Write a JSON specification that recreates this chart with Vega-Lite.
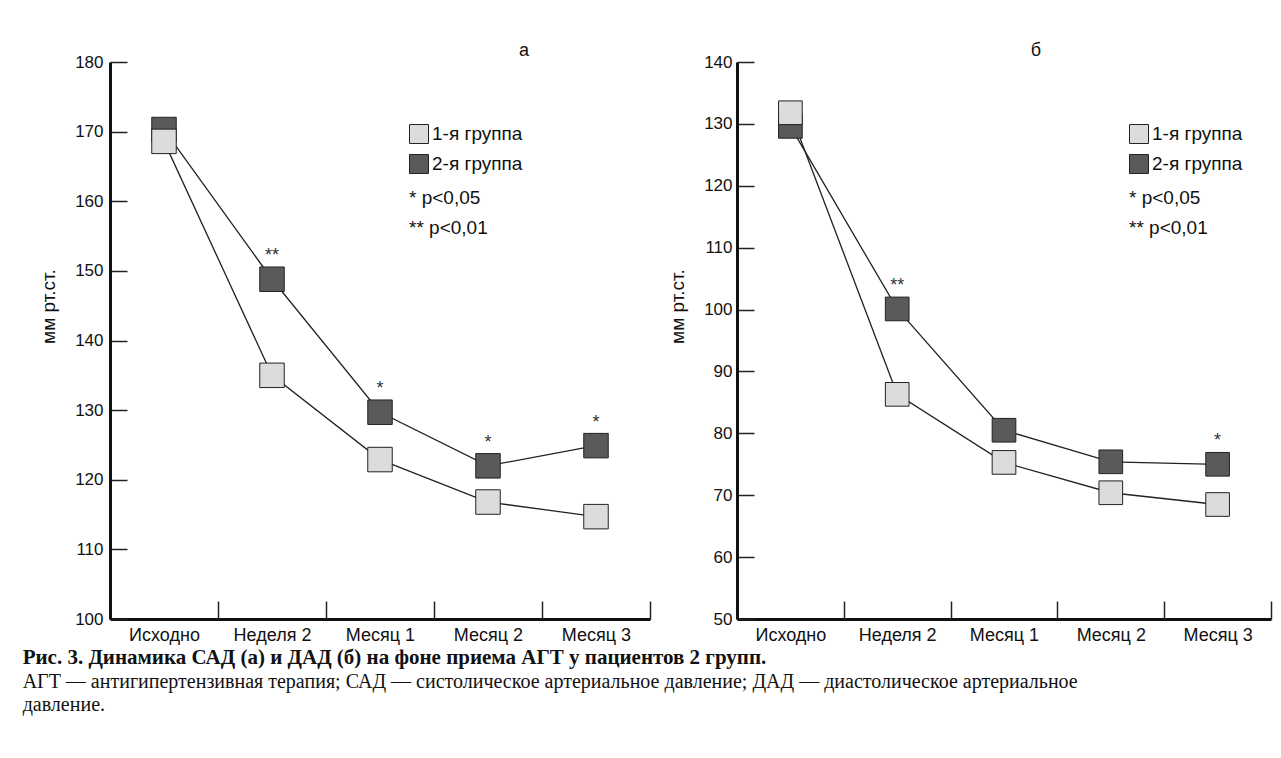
{
  "$schema": "https://vega.github.io/schema/vega-lite/v6.json",
  "background": "white",
  "padding": {"left": 22, "top": 42, "right": 5, "bottom": 5},
  "datasets": {
    "d": [
      {"panel": "a", "t": "Исходно", "g": "2-я группа", "v": 170.3, "sig": ""},
      {"panel": "a", "t": "Неделя 2", "g": "2-я группа", "v": 148.8, "sig": "**"},
      {"panel": "a", "t": "Месяц 1", "g": "2-я группа", "v": 129.7, "sig": "*"},
      {"panel": "a", "t": "Месяц 2", "g": "2-я группа", "v": 122.0, "sig": "*"},
      {"panel": "a", "t": "Месяц 3", "g": "2-я группа", "v": 124.9, "sig": "*"},
      {"panel": "a", "t": "Исходно", "g": "1-я группа", "v": 168.6, "sig": ""},
      {"panel": "a", "t": "Неделя 2", "g": "1-я группа", "v": 135.0, "sig": ""},
      {"panel": "a", "t": "Месяц 1", "g": "1-я группа", "v": 122.9, "sig": ""},
      {"panel": "a", "t": "Месяц 2", "g": "1-я группа", "v": 116.8, "sig": ""},
      {"panel": "a", "t": "Месяц 3", "g": "1-я группа", "v": 114.7, "sig": ""},
      {"panel": "b", "t": "Исходно", "g": "2-я группа", "v": 129.6, "sig": ""},
      {"panel": "b", "t": "Неделя 2", "g": "2-я группа", "v": 100.1, "sig": "**"},
      {"panel": "b", "t": "Месяц 1", "g": "2-я группа", "v": 80.5, "sig": ""},
      {"panel": "b", "t": "Месяц 2", "g": "2-я группа", "v": 75.4, "sig": ""},
      {"panel": "b", "t": "Месяц 3", "g": "2-я группа", "v": 75.0, "sig": "*"},
      {"panel": "b", "t": "Исходно", "g": "1-я группа", "v": 131.8, "sig": ""},
      {"panel": "b", "t": "Неделя 2", "g": "1-я группа", "v": 86.3, "sig": ""},
      {"panel": "b", "t": "Месяц 1", "g": "1-я группа", "v": 75.3, "sig": ""},
      {"panel": "b", "t": "Месяц 2", "g": "1-я группа", "v": 70.4, "sig": ""},
      {"panel": "b", "t": "Месяц 3", "g": "1-я группа", "v": 68.5, "sig": ""}
    ]
  },
  "config": {
    "font": "Liberation Sans",
    "view": {"stroke": null},
    "axis": {
      "labelFont": "Liberation Sans", "labelFontSize": 17, "labelColor": "#111",
      "domainColor": "#111", "domainWidth": 3, "tickColor": "#222", "tickWidth": 1.5,
      "grid": false, "titleFont": "Liberation Sans", "titleFontWeight": "normal",
      "titleFontSize": 19, "titleColor": "#111"
    },
    "legend": {
      "orient": "none", "titleOrient": "bottom", "titleAnchor": "start",
      "titleFontWeight": "normal", "titleFontSize": 19, "titleFont": "Liberation Sans",
      "titleColor": "#111", "titleLineHeight": 30, "titlePadding": 13,
      "labelFontSize": 19, "labelFont": "Liberation Sans", "labelColor": "#111",
      "symbolType": "square", "symbolSize": 361, "symbolStrokeColor": "#222",
      "symbolStrokeWidth": 1, "rowPadding": 6, "labelOffset": 3, "padding": 0
    },
    "title": {"font": "Liberation Sans", "fontWeight": "normal", "fontSize": 18, "color": "#111"}
  },
  "title": {
    "text": "Рис. 3. Динамика САД (а) и ДАД (б) на фоне приема АГТ у пациентов 2 групп.",
    "subtitle": ["АГТ — антигипертензивная терапия; САД — систолическое артериальное давление; ДАД — диастолическое артериальное", "давление."],
    "orient": "bottom", "anchor": "start", "dx": -17, "offset": 3,
    "font": "Liberation Serif", "fontWeight": "bold", "fontSize": 21, "color": "#111",
    "subtitleFont": "Liberation Serif", "subtitleFontSize": 20, "subtitleColor": "#111",
    "subtitleLineHeight": 23, "subtitlePadding": 4
  },
  "spacing": 17,
  "resolve": {"scale": {"y": "independent", "fill": "independent"}, "legend": {"fill": "independent"}},
  "hconcat": [
    {
      "width": 540, "height": 557,
      "title": {"text": "а", "dx": 144, "offset": -7},
      "data": {"name": "d"},
      "transform": [{"filter": "datum.panel == 'a'"}],
      "encoding": {
        "x": {"field": "t", "type": "nominal", "sort": ["Исходно", "Неделя 2", "Месяц 1", "Месяц 2", "Месяц 3"],
              "scale": {"paddingInner": 0, "paddingOuter": 0},
              "axis": {"title": null, "tickBand": "extent", "tickSize": -18, "labelPadding": 25, "labelAngle": 0, "labelFontSize": 18}},
        "y": {"field": "v", "type": "quantitative", "scale": {"domain": [100, 180]},
              "axis": {"title": "мм рт.ст.", "values": [100, 110, 120, 130, 140, 150, 160, 170, 180], "tickSize": -17, "labelPadding": 24, "titleY": 244, "titlePadding": 16}}
      },
      "layer": [
        {"mark": {"type": "line", "color": "#222", "strokeWidth": 1.3}, "encoding": {"detail": {"field": "g"}}},
        {"mark": {"type": "point", "shape": "square", "filled": true, "size": 600, "stroke": "#222", "strokeWidth": 1, "opacity": 1},
         "encoding": {"fill": {"field": "g", "type": "nominal", "scale": {"domain": ["1-я группа", "2-я группа"], "range": ["#dcdcdc", "#5a5a5a"]},
                               "legend": {"title": ["* p<0,05", "** p<0,01"], "legendX": 299, "legendY": 62}}}},
        {"transform": [{"filter": "datum.sig != ''"}],
         "mark": {"type": "text", "fontSize": 18, "color": "#333", "baseline": "alphabetic", "dy": -18},
         "encoding": {"text": {"field": "sig"}}}
      ]
    },
    {
      "width": 534, "height": 557,
      "title": {"text": "б", "dx": 32, "offset": -7},
      "data": {"name": "d"},
      "transform": [{"filter": "datum.panel == 'b'"}],
      "encoding": {
        "x": {"field": "t", "type": "nominal", "sort": ["Исходно", "Неделя 2", "Месяц 1", "Месяц 2", "Месяц 3"],
              "scale": {"paddingInner": 0, "paddingOuter": 0},
              "axis": {"title": null, "tickBand": "extent", "tickSize": -18, "labelPadding": 25, "labelAngle": 0, "labelFontSize": 18}},
        "y": {"field": "v", "type": "quantitative", "scale": {"domain": [50, 140]},
              "axis": {"title": "мм рт.ст.", "values": [50, 60, 70, 80, 90, 100, 110, 120, 130, 140], "tickSize": -17, "labelPadding": 22, "titleY": 244, "titlePadding": 16}}
      },
      "layer": [
        {"mark": {"type": "line", "color": "#222", "strokeWidth": 1.3}, "encoding": {"detail": {"field": "g"}}},
        {"mark": {"type": "point", "shape": "square", "filled": true, "size": 560, "stroke": "#222", "strokeWidth": 1, "opacity": 1},
         "encoding": {"fill": {"field": "g", "type": "nominal", "scale": {"domain": ["1-я группа", "2-я группа"], "range": ["#dcdcdc", "#5a5a5a"]},
                               "legend": {"title": ["* p<0,05", "** p<0,01"], "legendX": 392, "legendY": 62}}}},
        {"transform": [{"filter": "datum.sig != ''"}],
         "mark": {"type": "text", "fontSize": 18, "color": "#333", "baseline": "alphabetic", "dy": -18},
         "encoding": {"text": {"field": "sig"}}}
      ]
    }
  ]
}
